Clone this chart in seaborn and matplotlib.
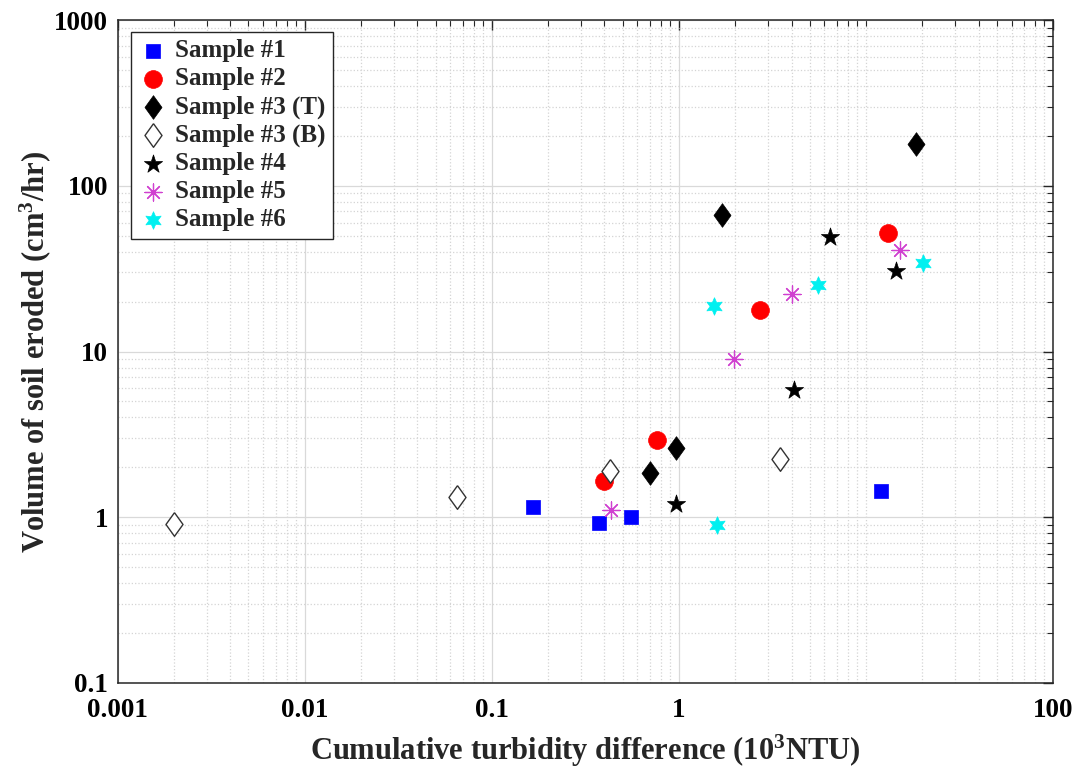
import numpy as np
import pandas as pd
import seaborn as sns
import matplotlib.pyplot as plt
from matplotlib.ticker import FixedLocator, FuncFormatter, NullFormatter

# Data (x: 10^3 NTU, y: cm^3/hr)
s1_x = [0.166, 0.374, 0.555, 12.1]
s1_y = [1.15, 0.92, 1.0, 1.45]
s2_x = [0.40, 0.767, 2.73, 13.1]
s2_y = [1.65, 2.94, 17.7, 51.6]
s3t_x = [0.70, 0.97, 1.70, 18.6]
s3t_y = [1.85, 2.62, 66.6, 178]
s3b_x = [0.002, 0.065, 0.43, 3.46]
s3b_y = [0.91, 1.32, 1.91, 2.26]
s4_x = [0.96, 4.11, 6.4, 14.5]
s4_y = [1.21, 5.82, 49.4, 30.8]
s5_x = [0.435, 1.97, 4.04, 15.2]
s5_y = [1.10, 8.95, 22.1, 41.0]
s6_x = [1.6, 1.55, 5.54, 20.2]
s6_y = [0.90, 18.7, 25.2, 34.0]

labels = ['Sample #1', 'Sample #2', 'Sample #3 (T)', 'Sample #3 (B)',
          'Sample #4', 'Sample #5', 'Sample #6']
xs = [s1_x, s2_x, s3t_x, s3b_x, s4_x, s5_x, s6_x]
ys = [s1_y, s2_y, s3t_y, s3b_y, s4_y, s5_y, s6_y]

x_ticks = [0.001, 0.01, 0.1, 1, 100]
y_ticks = [0.1, 1, 10, 100, 1000]

# MATLAB-like tall diamond
diamond = [(0, 1), (0.72, 0), (0, -1), (-0.72, 0), (0, 1)]

styles = [
    dict(marker='s', s=115, color='#0000ff', edgecolor='#0000ff', linewidth=0.5),
    dict(marker='o', s=165, color='#ff0000', edgecolor='#ff0000', linewidth=0.5),
    dict(marker=diamond, s=290, color='black', edgecolor='black', linewidth=0.5),
    dict(marker=diamond, s=290, facecolor='white', edgecolor='#333333', linewidth=1.0),
    dict(marker='*', s=190, color='black', edgecolor='black', linewidth=0.5),
    dict(marker=(8, 2, 0), s=150, color='#d040d0', edgecolor=None, linewidth=0.9),
    dict(marker=(6, 1, 0), s=160, color='#00f0f0', edgecolor='#00f0f0', linewidth=0.5),
]

sns.set_theme(style='white')
plt.rcParams['font.family'] = ['Liberation Serif', 'DejaVu Serif']
plt.rcParams['font.weight'] = 'bold'
plt.rcParams['mathtext.fontset'] = 'custom'
plt.rcParams['mathtext.rm'] = 'Liberation Serif:bold'
plt.rcParams['mathtext.default'] = 'rm'

fig, ax = plt.subplots(figsize=(10.8, 7.7), dpi=100)
fig.subplots_adjust(left=0.109, right=0.975, bottom=0.113, top=0.974)

for x, y, lab, st in zip(xs, ys, labels, styles):
    df = pd.DataFrame({'x': x, 'y': y})
    sns.scatterplot(data=df, x='x', y='y', ax=ax, label=lab, zorder=3, **st)

ax.set_xscale('log')
ax.set_yscale('log')
ax.set_xlim(0.001, 100)
ax.set_ylim(0.1, 1000)

minor_x = [k * 10.0 ** e for e in range(-3, 2) for k in range(2, 10)] + [10]
minor_y = [k * 10.0 ** e for e in range(-1, 3) for k in range(2, 10)]
ax.xaxis.set_major_locator(FixedLocator(x_ticks))
ax.xaxis.set_minor_locator(FixedLocator(minor_x))
ax.yaxis.set_major_locator(FixedLocator(y_ticks))
ax.yaxis.set_minor_locator(FixedLocator(minor_y))
fmt = FuncFormatter(lambda v, p: '%g' % v)
ax.xaxis.set_major_formatter(fmt)
ax.yaxis.set_major_formatter(fmt)
ax.xaxis.set_minor_formatter(NullFormatter())
ax.yaxis.set_minor_formatter(NullFormatter())

ax.grid(which='major', color='#d9d9d9', linestyle='-', linewidth=0.9)
ax.grid(which='minor', color='#d4d4d4', linestyle=':', linewidth=0.9)
ax.set_axisbelow(True)

ax.tick_params(which='both', direction='in', top=True, right=True,
               colors='#262626', labelcolor='black', labelsize=19.5)
ax.tick_params(which='major', length=7, width=1)
ax.tick_params(which='minor', length=4, width=0.8)
ax.tick_params(axis='x', pad=11)
ax.tick_params(axis='y', pad=7)
for sp in ax.spines.values():
    sp.set_color('#262626')
    sp.set_linewidth(1.1)

ax.set_xlabel('Cumulative turbidity difference (10$^3$NTU)', fontsize=22,
              fontweight='bold', labelpad=7)
ax.set_ylabel('Volume of soil eroded (cm$^3$/hr)', fontsize=22,
              fontweight='bold', labelpad=1)

leg = ax.legend(loc='upper left', bbox_to_anchor=(0.014, 0.982), borderaxespad=0,
                frameon=True, fancybox=False, framealpha=1, edgecolor='#262626',
                prop={'family': 'Liberation Serif', 'weight': 'bold', 'size': 18},
                handletextpad=0.25, labelspacing=0.2, borderpad=0.3,
                handlelength=1.2)
leg.get_frame().set_linewidth(1.0)

fig.savefig('out.png', dpi=100)
